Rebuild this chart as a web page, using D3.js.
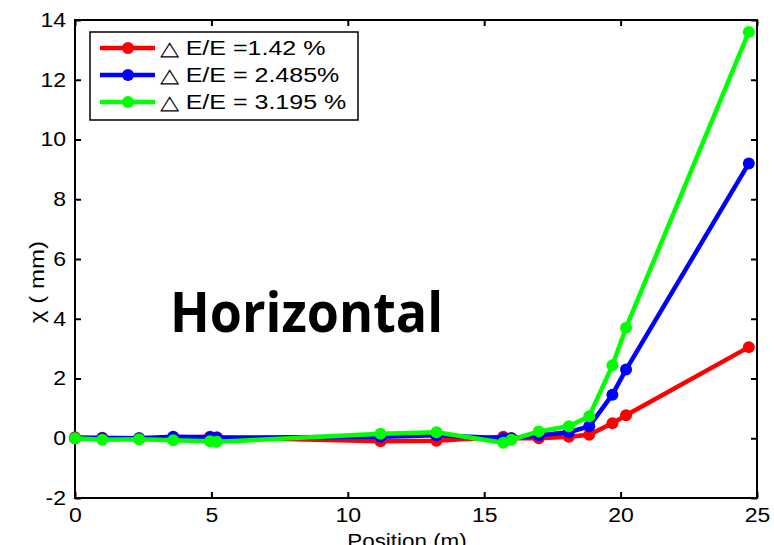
<!DOCTYPE html>
<html>
<head>
<meta charset="utf-8">
<script src="https://cdn.jsdelivr.net/npm/d3@7"></script>
<style>
  body { margin: 0; background: #fff; }
  text { font-family: "Liberation Sans", Arial, sans-serif; }
</style>
</head>
<body>
<svg id="chart" width="774" height="545"></svg>
<script>
// -------------------- DATA -------------------- //
const positions = [0, 1.0, 2.35, 3.6, 4.95, 5.2, 11.2, 13.25, 15.7, 16.0, 17.0, 18.1, 18.85, 19.7, 20.2, 24.7];
const redValues = [0.03, 0.02, 0, 0.02, 0.05, 0.03, -0.1, -0.08, 0.05, 0, 0, 0.05, 0.12, 0.5, 0.77, 3.05];
const blueValues = [0, 0, 0, 0.05, 0.03, 0.02, 0.05, 0.1, 0, 0, 0.1, 0.2, 0.4, 1.46, 2.3, 9.2];
const greenValues = [0, -0.05, -0.03, -0.07, -0.1, -0.12, 0.15, 0.2, -0.15, -0.05, 0.23, 0.4, 0.74, 2.44, 3.7, 13.6];
const seriesNames = ["\u25B3 E/E =1.42 %", "\u25B3 E/E = 2.485%", "\u25B3 E/E = 3.195 %"];
const seriesColors = ["#ff0000", "#0000ff", "#00ff00"];
const xTicks = [0, 5, 10, 15, 20, 25];
const yTicks = [-2, 0, 2, 4, 6, 8, 10, 12, 14];

// -------------------- SETUP -------------------- //
let svg = d3.select("#chart");
let plotLeft = 75, plotRight = 757, plotTop = 20, plotBottom = 498;

let x = d3.scaleLinear().domain([0, 25]).range([plotLeft, plotRight]);
let y = d3.scaleLinear().domain([-2, 14]).range([plotBottom, plotTop]);

let series = [redValues, blueValues, greenValues].map((vals, i) => ({
    name: seriesNames[i],
    color: seriesColors[i],
    points: positions.map((p, j) => [p, vals[j]])
}));

// the source picture is stretched sideways, so widen the glyphs a bit
function stretch(sel, k) {
    sel.each(function () {
        let w = this.getComputedTextLength();
        d3.select(this).attr("textLength", w * k).attr("lengthAdjust", "spacingAndGlyphs");
    });
}

// axes (ticks inward, on all four sides like matlab)
let fmt = d => String(d);
svg.append("g").attr("transform", `translate(0,${plotBottom})`)
    .call(d3.axisBottom(x).tickValues(xTicks).tickFormat(fmt).tickSizeInner(-6).tickSizeOuter(0).tickPadding(10))
    .call(g => g.select(".domain").remove());
svg.append("g").attr("transform", `translate(0,${plotTop})`)
    .call(d3.axisTop(x).tickValues(xTicks).tickSizeInner(-6).tickSizeOuter(0).tickFormat(""))
    .call(g => g.select(".domain").remove());
svg.append("g").attr("transform", `translate(${plotLeft},0)`)
    .call(d3.axisLeft(y).tickValues(yTicks).tickFormat(fmt).tickSizeInner(-6).tickSizeOuter(0).tickPadding(9))
    .call(g => g.select(".domain").remove());
svg.append("g").attr("transform", `translate(${plotRight},0)`)
    .call(d3.axisRight(y).tickValues(yTicks).tickSizeInner(-6).tickSizeOuter(0).tickFormat(""))
    .call(g => g.select(".domain").remove());

svg.selectAll(".tick line").attr("stroke", "#000").attr("stroke-width", 2);
svg.selectAll(".tick text").attr("font-size", 20).attr("fill", "#000")
    .attr("font-family", "'Liberation Sans', Arial, sans-serif")
    .call(stretch, 1.15);

svg.append("rect")
    .attr("x", plotLeft).attr("y", plotTop)
    .attr("width", plotRight - plotLeft).attr("height", plotBottom - plotTop)
    .attr("fill", "none").attr("stroke", "#000").attr("stroke-width", 2);

// -------------------- LINES -------------------- //
let line = d3.line().x(d => x(d[0])).y(d => y(d[1]));

series.forEach(s => {
    svg.append("path")
        .datum(s.points)
        .attr("d", line)
        .attr("fill", "none")
        .attr("stroke", s.color)
        .attr("stroke-width", 4.5)
        .attr("stroke-linejoin", "round");
    svg.selectAll(null)
        .data(s.points)
        .enter().append("circle")
        .attr("cx", d => x(d[0]))
        .attr("cy", d => y(d[1]))
        .attr("r", 6)
        .attr("fill", s.color);
});

// -------------------- LABELS -------------------- //
svg.append("text")
    .attr("x", 170).attr("y", 332)
    .attr("font-weight", "bold")
    .attr("font-size", 55)
    .attr("textLength", 273)
    .attr("lengthAdjust", "spacingAndGlyphs")
    .style("font-family", "'Open Sans', sans-serif")
    .text("Horizontal");

svg.append("text")
    .attr("transform", "translate(44,282) rotate(-90)")
    .attr("text-anchor", "middle")
    .attr("font-size", 20)
    .text("\u03C7 ( mm)")
    .call(stretch, 1.2);

svg.append("text")
    .attr("x", 407)
    .attr("y", 548)
    .attr("text-anchor", "middle")
    .attr("font-size", 20)
    .text("Position (m)")
    .call(stretch, 1.12);

// -------------------- LEGEND -------------------- //
let legend = svg.append("g");
legend.append("rect")
    .attr("x", 90).attr("y", 32)
    .attr("width", 268).attr("height", 88)
    .attr("fill", "#fff").attr("stroke", "#000").attr("stroke-width", 1.5);

series.forEach((s, i) => {
    let ly = 48 + i * 27;
    legend.append("line")
        .attr("x1", 100).attr("x2", 155)
        .attr("y1", ly).attr("y2", ly)
        .attr("stroke", s.color).attr("stroke-width", 4.5);
    legend.append("circle")
        .attr("cx", 128).attr("cy", ly).attr("r", 6)
        .attr("fill", s.color);
    legend.append("text")
        .attr("x", 160).attr("y", ly + 7)
        .attr("font-size", 20)
        .text(s.name)
        .call(stretch, 1.25);
});
</script>
</body>
</html>
